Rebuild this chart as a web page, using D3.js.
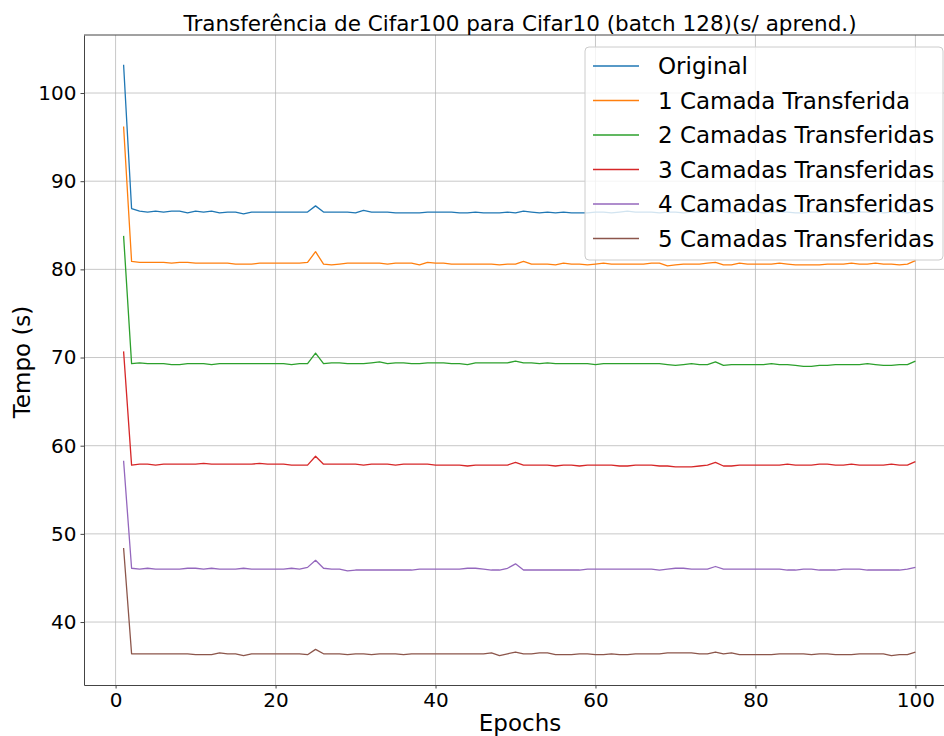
<!DOCTYPE html>
<html>
<head>
<meta charset="utf-8">
<script src="https://cdn.jsdelivr.net/npm/d3@7"></script>
<style>
  body { margin: 0; background: #fff; }
  text { font-family: "DejaVu Sans", sans-serif; fill: #000; }
</style>
</head>
<body>
<div id="chart"></div>
<script>
const title = "Transferência de Cifar100 para Cifar10 (batch 128)(s/ aprend.)";
const seriesNames = ["Original", "1 Camada Transferida", "2 Camadas Transferidas",
  "3 Camadas Transferidas", "4 Camadas Transferidas", "5 Camadas Transferidas"];
const colors = ["#1f77b4", "#ff7f0e", "#2ca02c", "#d62728", "#9467bd", "#8c564b"];
const xTicks = [0, 20, 40, 60, 80, 100];
const yTicks = [40, 50, 60, 70, 80, 90, 100];

const original = [103.2, 86.9, 86.6, 86.5, 86.6, 86.5, 86.6, 86.6, 86.4, 86.6,
  86.5, 86.6, 86.4, 86.5, 86.5, 86.3, 86.5, 86.5, 86.5, 86.5,
  86.5, 86.5, 86.5, 86.5, 87.2, 86.5, 86.5, 86.5, 86.5, 86.4,
  86.7, 86.5, 86.5, 86.5, 86.4, 86.4, 86.4, 86.4, 86.5, 86.5,
  86.5, 86.5, 86.4, 86.4, 86.5, 86.4, 86.4, 86.4, 86.5, 86.4,
  86.6, 86.5, 86.4, 86.5, 86.4, 86.5, 86.4, 86.4, 86.4, 86.5,
  86.5, 86.4, 86.5, 86.6, 86.5, 86.5, 86.5, 86.4, 86.5, 86.5,
  86.4, 86.5, 86.5, 86.5, 86.7, 86.5, 86.4, 86.5, 86.5, 86.5,
  86.4, 86.5, 86.5, 86.5, 86.4, 86.4, 86.5, 86.5, 86.5, 86.5,
  86.5, 86.4, 86.5, 86.5, 86.5, 86.4, 86.5, 86.5, 86.4, 86.6];
const camada1 = [96.2, 80.9, 80.8, 80.8, 80.8, 80.8, 80.7, 80.8, 80.8, 80.7,
  80.7, 80.7, 80.7, 80.7, 80.6, 80.6, 80.6, 80.7, 80.7, 80.7,
  80.7, 80.7, 80.7, 80.8, 82.0, 80.6, 80.5, 80.6, 80.7, 80.7,
  80.7, 80.7, 80.7, 80.6, 80.7, 80.7, 80.7, 80.5, 80.8, 80.7,
  80.7, 80.6, 80.6, 80.6, 80.6, 80.6, 80.6, 80.5, 80.6, 80.6,
  80.9, 80.6, 80.6, 80.6, 80.5, 80.7, 80.6, 80.6, 80.5, 80.6,
  80.7, 80.6, 80.6, 80.6, 80.6, 80.6, 80.7, 80.7, 80.4, 80.5,
  80.6, 80.6, 80.6, 80.7, 80.8, 80.5, 80.5, 80.7, 80.6, 80.6,
  80.6, 80.6, 80.7, 80.6, 80.5, 80.5, 80.5, 80.5, 80.6, 80.6,
  80.6, 80.7, 80.6, 80.6, 80.7, 80.6, 80.6, 80.5, 80.6, 81.0];
const camadas2 = [83.8, 69.3, 69.4, 69.3, 69.3, 69.3, 69.2, 69.2, 69.3, 69.3,
  69.3, 69.2, 69.3, 69.3, 69.3, 69.3, 69.3, 69.3, 69.3, 69.3,
  69.3, 69.2, 69.3, 69.3, 70.5, 69.3, 69.4, 69.4, 69.3, 69.3,
  69.3, 69.4, 69.5, 69.3, 69.4, 69.4, 69.3, 69.3, 69.4, 69.4,
  69.4, 69.3, 69.3, 69.2, 69.4, 69.4, 69.4, 69.4, 69.4, 69.6,
  69.4, 69.4, 69.3, 69.4, 69.3, 69.3, 69.3, 69.3, 69.3, 69.2,
  69.3, 69.3, 69.3, 69.3, 69.3, 69.3, 69.3, 69.3, 69.2, 69.1,
  69.2, 69.3, 69.2, 69.2, 69.5, 69.1, 69.2, 69.2, 69.2, 69.2,
  69.2, 69.3, 69.2, 69.2, 69.1, 69.0, 69.0, 69.1, 69.1, 69.2,
  69.2, 69.2, 69.2, 69.3, 69.2, 69.1, 69.1, 69.2, 69.2, 69.6];
const camadas3 = [70.7, 57.8, 57.9, 57.9, 57.8, 57.9, 57.9, 57.9, 57.9, 57.9,
  58.0, 57.9, 57.9, 57.9, 57.9, 57.9, 57.9, 58.0, 57.9, 57.9,
  57.9, 57.8, 57.8, 57.8, 58.8, 57.9, 57.9, 57.9, 57.9, 57.9,
  57.8, 57.9, 57.9, 57.9, 57.8, 57.9, 57.9, 57.9, 57.9, 57.8,
  57.8, 57.8, 57.8, 57.7, 57.8, 57.8, 57.8, 57.8, 57.8, 58.1,
  57.8, 57.8, 57.8, 57.8, 57.7, 57.8, 57.8, 57.7, 57.8, 57.8,
  57.8, 57.8, 57.7, 57.7, 57.8, 57.8, 57.8, 57.7, 57.7, 57.6,
  57.6, 57.6, 57.7, 57.8, 58.1, 57.7, 57.7, 57.8, 57.8, 57.8,
  57.8, 57.8, 57.8, 57.9, 57.8, 57.8, 57.8, 57.9, 57.9, 57.8,
  57.8, 57.9, 57.8, 57.8, 57.8, 57.8, 57.9, 57.8, 57.8, 58.2];
const camadas4 = [58.3, 46.1, 46.0, 46.1, 46.0, 46.0, 46.0, 46.0, 46.1, 46.1,
  46.0, 46.1, 46.0, 46.0, 46.0, 46.1, 46.0, 46.0, 46.0, 46.0,
  46.0, 46.1, 46.0, 46.2, 47.0, 46.1, 46.0, 46.0, 45.8, 45.9,
  45.9, 45.9, 45.9, 45.9, 45.9, 45.9, 45.9, 46.0, 46.0, 46.0,
  46.0, 46.0, 46.0, 46.1, 46.1, 46.0, 45.9, 45.9, 46.1, 46.6,
  45.9, 45.9, 45.9, 45.9, 45.9, 45.9, 45.9, 45.9, 46.0, 46.0,
  46.0, 46.0, 46.0, 46.0, 46.0, 46.0, 46.0, 45.9, 46.0, 46.1,
  46.1, 46.0, 46.0, 46.0, 46.3, 46.0, 46.0, 46.0, 46.0, 46.0,
  46.0, 46.0, 46.0, 45.9, 45.9, 46.0, 46.0, 45.9, 45.9, 45.9,
  46.0, 46.0, 46.0, 45.9, 45.9, 45.9, 45.9, 45.9, 46.0, 46.2];
const camadas5 = [48.4, 36.4, 36.4, 36.4, 36.4, 36.4, 36.4, 36.4, 36.4, 36.3,
  36.3, 36.3, 36.5, 36.4, 36.4, 36.2, 36.4, 36.4, 36.4, 36.4,
  36.4, 36.4, 36.4, 36.3, 36.9, 36.4, 36.4, 36.4, 36.3, 36.4,
  36.4, 36.3, 36.4, 36.4, 36.4, 36.3, 36.4, 36.4, 36.4, 36.4,
  36.4, 36.4, 36.4, 36.4, 36.4, 36.4, 36.5, 36.2, 36.4, 36.6,
  36.4, 36.4, 36.5, 36.5, 36.3, 36.3, 36.3, 36.4, 36.4, 36.3,
  36.3, 36.4, 36.3, 36.3, 36.4, 36.4, 36.4, 36.4, 36.5, 36.5,
  36.5, 36.5, 36.4, 36.4, 36.6, 36.4, 36.5, 36.3, 36.3, 36.3,
  36.3, 36.3, 36.4, 36.4, 36.4, 36.4, 36.3, 36.4, 36.4, 36.3,
  36.3, 36.3, 36.4, 36.4, 36.4, 36.4, 36.2, 36.3, 36.3, 36.6];

const allSeries = [original, camada1, camadas2, camadas3, camadas4, camadas5];

const width = 944, height = 736;
const margin = { top: 35, right: -3, bottom: 51, left: 84 };
const innerW = width - margin.left - margin.right;
const innerH = height - margin.top - margin.bottom;

const svg = d3.select("#chart").append("svg")
  .attr("width", width).attr("height", height);

const g = svg.append("g").attr("transform", `translate(${margin.left},${margin.top})`);

const x = d3.scaleLinear().domain([-3.95, 103.95]).range([0, innerW]);
const y = d3.scaleLinear().domain([32.86, 106.58]).range([innerH, 0]);

// grid
g.append("g").selectAll("line").data(xTicks).join("line")
  .attr("x1", d => x(d)).attr("x2", d => x(d))
  .attr("y1", 0).attr("y2", innerH)
  .attr("stroke", "#b0b0b0").attr("stroke-opacity", 0.7).attr("stroke-width", 1);
g.append("g").selectAll("line").data(yTicks).join("line")
  .attr("x1", 0).attr("x2", innerW)
  .attr("y1", d => y(d)).attr("y2", d => y(d))
  .attr("stroke", "#b0b0b0").attr("stroke-opacity", 0.7).attr("stroke-width", 1);

// lines
const line = d3.line().x((d, i) => x(i + 1)).y(d => y(d));
allSeries.forEach((s, k) => {
  g.append("path").datum(s)
    .attr("fill", "none")
    .attr("stroke", colors[k])
    .attr("stroke-width", 1.3)
    .attr("stroke-linejoin", "round")
    .attr("d", line);
});

// axes
const xAxis = g.append("g").attr("transform", `translate(0,${innerH})`)
  .call(d3.axisBottom(x).tickValues(xTicks).tickSize(3.5).tickSizeOuter(0).tickPadding(4));
const yAxis = g.append("g")
  .call(d3.axisLeft(y).tickValues(yTicks).tickSize(3.5).tickSizeOuter(0).tickPadding(4));
[xAxis, yAxis].forEach(a => {
  a.select(".domain").attr("stroke", "#444");
  a.selectAll(".tick line").attr("stroke", "#444");
  a.selectAll("text").style("font-family", "DejaVu Sans").style("font-size", "20px").attr("fill", "#000");
});
// top spine
g.append("line").attr("x1", 0).attr("x2", innerW).attr("y1", 0).attr("y2", 0).attr("stroke", "#444");

// title and labels
svg.append("text").attr("x", 520).attr("y", 31)
  .attr("text-anchor", "middle").style("font-size", "21.5px").text(title);
svg.append("text").attr("x", 520).attr("y", 731)
  .attr("text-anchor", "middle").style("font-size", "23px").text("Epochs");
svg.append("text").attr("transform", "translate(30,362) rotate(-90)")
  .attr("text-anchor", "middle").style("font-size", "23px").text("Tempo (s)");

// legend
const legend = svg.append("g").attr("transform", "translate(585,47)");
legend.append("rect").attr("width", 358).attr("height", 213)
  .attr("rx", 4).attr("fill", "#fff").attr("fill-opacity", 0.8)
  .attr("stroke", "#cccccc").attr("stroke-width", 1);
seriesNames.forEach((name, k) => {
  const row = legend.append("g").attr("transform", `translate(0,${19 + k * 34.5})`);
  row.append("line").attr("x1", 8).attr("x2", 54).attr("y1", 0).attr("y2", 0)
    .attr("stroke", colors[k]).attr("stroke-width", 1.3);
  row.append("text").attr("x", 73).attr("y", 0).attr("dy", "0.35em")
    .style("font-size", "23px").text(name);
});
</script>
</body>
</html>
